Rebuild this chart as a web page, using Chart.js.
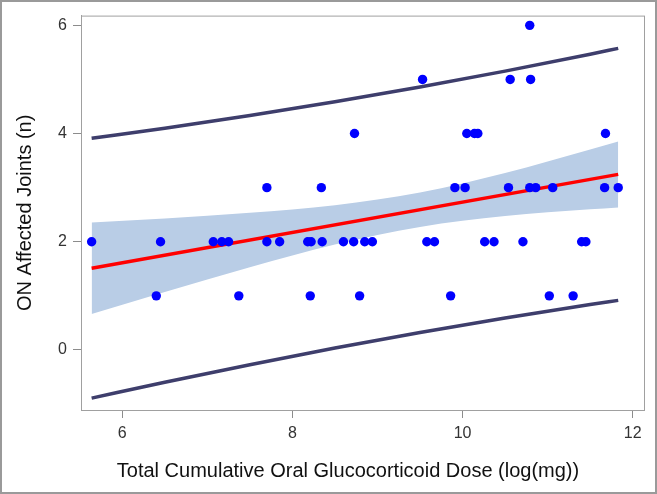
<!DOCTYPE html>
<html>
<head>
<meta charset="utf-8">
<script src="https://cdn.jsdelivr.net/npm/chart.js@4.4.1/dist/chart.umd.min.js"></script>
<style>
  html, body { margin: 0; padding: 0; background: #fff; }
  #wrap { width: 657px; height: 494px; }
</style>
</head>
<body>
<div id="wrap"><canvas id="chart" width="657" height="494"></canvas></div>
<script>
// observed patients: dose (log mg) vs number of ON affected joints
const doseX = [5.64, 6.40, 6.45, 7.07, 7.17, 7.25, 7.37, 7.70, 7.70, 7.85,
  8.18, 8.21, 8.22, 8.34, 8.35, 8.60, 8.72, 8.73, 8.79, 8.85,
  8.94, 9.53, 9.58, 9.67, 9.86, 9.91, 10.03, 10.05, 10.14, 10.18,
  10.26, 10.37, 10.54, 10.56, 10.71, 10.79, 10.80, 10.79, 10.86, 11.02,
  11.06, 11.30, 11.40, 11.45, 11.67, 11.68, 11.83];
const joints = [2, 1, 2, 2, 2, 2, 1, 3, 2, 2,
  2, 1, 2, 3, 2, 2, 2, 4, 1, 2,
  2, 5, 2, 2, 1, 3, 3, 4, 4, 4,
  2, 2, 3, 5, 2, 6, 5, 3, 3, 1,
  3, 1, 2, 2, 3, 4, 3];

// fitted line
const fitX = [5.64, 11.83];
const fitY = [1.51, 3.245];

// confidence / prediction bands, read at a few x positions
const bandX   = [5.64, 6.5, 7.5, 8.5, 9.5, 10.5, 11.5, 11.83];
const ciUpper = [2.355, 2.431, 2.534, 2.676, 2.910, 3.270, 3.705, 3.855];
const ciLower = [0.665, 1.071, 1.528, 1.948, 2.274, 2.474, 2.601, 2.635];
const piUpper = [3.911, 4.099, 4.334, 4.589, 4.862, 5.154, 5.467, 5.574];
const piLower = [-0.891, -0.597, -0.272, 0.035, 0.322, 0.590, 0.839, 0.916];

const xTicks = [6, 8, 10, 12];
const yTicks = [0, 2, 4, 6];

const xTitle = "Total Cumulative Oral Glucocorticoid Dose (log(mg))";
const fontFamily = "'Liberation Sans', Arial, sans-serif";

const pts = (xs, ys) => xs.map((x, i) => ({ x: x, y: ys[i] }));

// frames + x-axis title (the original sits a bit left of the plot centre)
const frame = {
  id: "frame",
  afterDraw(chart) {
    const { ctx, chartArea: a } = chart;
    ctx.save();
    ctx.strokeStyle = "#a0a0a0";
    ctx.lineWidth = 1;
    ctx.strokeRect(a.left + 0.5, a.top + 0.5, a.right - a.left, a.bottom - a.top);
    ctx.strokeStyle = "#9a9a9a";
    ctx.lineWidth = 2;
    ctx.strokeRect(1, 1, chart.width - 2, chart.height - 2);

    ctx.fillStyle = "#111";
    ctx.font = "20px " + fontFamily;
    ctx.textAlign = "center";
    ctx.textBaseline = "middle";
    ctx.fillText(xTitle, 348, 471);
    ctx.restore();
  }
};

const bandLine = {
  borderColor: "#3e3e6c",
  borderWidth: 3.5,
  pointRadius: 0,
  fill: false,
  cubicInterpolationMode: "monotone"
};

new Chart(document.getElementById("chart"), {
  type: "line",
  data: {
    datasets: [
      {
        type: "scatter",
        label: "Observed",
        data: pts(doseX, joints),
        backgroundColor: "#0000ff",
        borderWidth: 0,
        pointRadius: 4.7,
        order: 0
      },
      {
        label: "Fit",
        data: pts(fitX, fitY),
        borderColor: "#ff0000",
        borderWidth: 3.5,
        pointRadius: 0,
        fill: false,
        order: 1
      },
      Object.assign({ label: "PI upper", data: pts(bandX, piUpper), order: 2 }, bandLine),
      Object.assign({ label: "PI lower", data: pts(bandX, piLower), order: 2 }, bandLine),
      {
        label: "CI lower",
        data: pts(bandX, ciLower),
        borderWidth: 0,
        pointRadius: 0,
        fill: false,
        cubicInterpolationMode: "monotone",
        order: 3
      },
      {
        label: "CI upper",
        data: pts(bandX, ciUpper),
        borderWidth: 0,
        pointRadius: 0,
        backgroundColor: "rgb(185,205,230)",
        fill: { target: 4 },
        cubicInterpolationMode: "monotone",
        order: 3
      }
    ]
  },
  options: {
    responsive: false,
    animation: false,
    layout: { padding: { left: 0, top: 13, right: 13, bottom: 0 } },
    plugins: {
      legend: { display: false },
      tooltip: { enabled: false }
    },
    scales: {
      x: {
        type: "linear",
        min: 5.515,
        max: 12.133,
        afterFit: (s) => { s.height = 84; },
        afterBuildTicks: (s) => { s.ticks = xTicks.map(v => ({ value: v })); },
        grid: { display: true, drawOnChartArea: false, drawTicks: true, tickLength: 8, color: "#8c8c8c" },
        border: { display: true, color: "#a0a0a0" },
        ticks: {
          color: "#333",
          padding: 6,
          maxRotation: 0,
          font: { size: 16, family: fontFamily }
        },
        title: { display: false }
      },
      y: {
        type: "linear",
        min: -1.11,
        max: 6.18,
        afterFit: (s) => { s.width = 81; },
        afterBuildTicks: (s) => { s.ticks = yTicks.map(v => ({ value: v })); },
        grid: { display: true, drawOnChartArea: false, drawTicks: true, tickLength: 8, color: "#8c8c8c" },
        border: { display: true, color: "#a0a0a0" },
        ticks: {
          color: "#333",
          padding: 6,
          font: { size: 16, family: fontFamily }
        },
        title: {
          display: true,
          text: "ON Affected Joints (n)",
          color: "#111",
          padding: { top: 13, bottom: 0 },
          font: { size: 20, family: fontFamily }
        }
      }
    }
  },
  plugins: [frame]
});
</script>
</body>
</html>
